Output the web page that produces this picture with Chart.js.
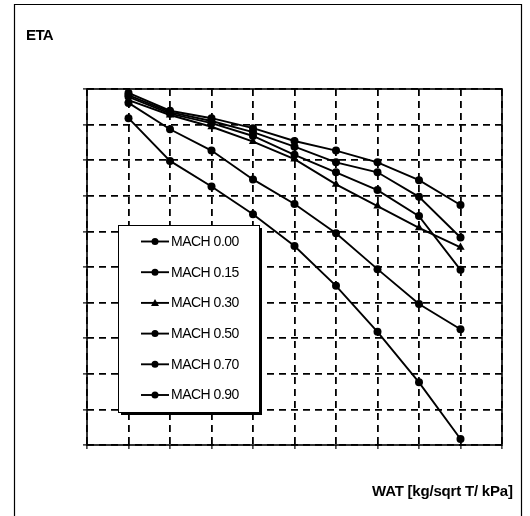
<!DOCTYPE html>
<html>
<head>
<meta charset="utf-8">
<script src="https://cdn.jsdelivr.net/npm/chart.js@4"></script>
<style>
html,body{margin:0;padding:0;background:#fff;}
#wrap{width:530px;height:516px;}
</style>
</head>
<body>
<div id="wrap"><canvas id="c" width="530" height="516"></canvas></div>
<script>
// ---- data ----
const wat = [1, 2, 3, 4, 5, 6, 7, 8, 9];
const seriesLabels = ["MACH 0.00", "MACH 0.15", "MACH 0.30", "MACH 0.50", "MACH 0.70", "MACH 0.90"];
const mach000 = [9.89, 9.39, 9.18, 8.90, 8.54, 8.27, 7.94, 7.44, 6.74];
const mach015 = [9.83, 9.35, 9.10, 8.79, 8.38, 7.94, 7.66, 6.97, 5.83];
const mach030 = [9.69, 9.27, 8.94, 8.52, 8.03, 7.32, 6.71, 6.10, 5.55];
const mach050 = [9.78, 9.31, 9.04, 8.68, 8.15, 7.66, 7.16, 6.43, 4.92];
const mach070 = [9.61, 8.87, 8.27, 7.46, 6.77, 5.95, 4.94, 3.96, 3.25];
const mach090 = [9.18, 7.98, 7.26, 6.48, 5.59, 4.47, 3.18, 1.76, 0.17];
const pointStyles = ["circle", "circle", "triangle", "circle", "circle", "circle"];
const titleText = "ETA";
const xAxisText = "WAT [kg/sqrt T/ kPa]";

const allSeries = [mach000, mach015, mach030, mach050, mach070, mach090];
const datasets = allSeries.map((vals, i) => ({
  label: seriesLabels[i],
  data: vals.map((v, j) => ({ x: wat[j], y: v })),
  borderColor: "#000",
  backgroundColor: "#000",
  borderWidth: 1.9,
  pointStyle: pointStyles[i],
  pointRadius: pointStyles[i] === "triangle" ? 4.8 : 4,
  pointBorderWidth: 0,
  tension: 0,
  fill: false
}));

const decor = {
  id: "decor",
  beforeDraw(chart) {
    const ctx = chart.ctx;
    ctx.save();
    ctx.fillStyle = "#fff";
    ctx.fillRect(0, 0, chart.width, chart.height);
    // outer frame
    ctx.strokeStyle = "#000";
    ctx.lineWidth = 1.2;
    ctx.beginPath();
    ctx.moveTo(14.5, 530);
    ctx.lineTo(14.5, 4.5);
    ctx.lineTo(521.5, 4.5);
    ctx.lineTo(521.5, 530);
    ctx.stroke();
    // title
    ctx.fillStyle = "#000";
    ctx.font = "bold 15px 'Liberation Sans', Arial, sans-serif";
    ctx.letterSpacing = "-0.6px";
    ctx.textBaseline = "middle";
    ctx.textAlign = "left";
    ctx.fillText(titleText, 26, 36);
    // x axis text
    ctx.font = "bold 15px 'Liberation Sans', Arial, sans-serif";
    ctx.letterSpacing = "-0.2px";
    ctx.fillText(xAxisText, 372, 492);
    ctx.restore();
  },
  beforeDatasetsDraw(chart) {
    const a = chart.chartArea;
    const ctx = chart.ctx;
    ctx.save();
    ctx.strokeStyle = "#000";
    ctx.lineWidth = 1.6;
    ctx.setLineDash([]);
    ctx.strokeRect(a.left, a.top, a.right - a.left, a.bottom - a.top);
    ctx.restore();
  },
  afterDatasetsDraw(chart) {
    const ctx = chart.ctx;
    const bx = 118, by = 225, bw = 141, bh = 187;
    ctx.save();
    // shadow
    ctx.fillStyle = "#000";
    ctx.fillRect(bx + 3, by + 3, bw, bh);
    ctx.fillStyle = "#fff";
    ctx.fillRect(bx, by, bw, bh);
    ctx.strokeStyle = "#000";
    ctx.lineWidth = 1;
    ctx.strokeRect(bx + 0.5, by + 0.5, bw, bh);
    chart.data.datasets.forEach((ds, i) => {
      const y = 241.5 + i * 30.7;
      ctx.strokeStyle = "#000";
      ctx.lineWidth = 1.9;
      ctx.beginPath();
      ctx.moveTo(141, y);
      ctx.lineTo(169, y);
      ctx.stroke();
      ctx.fillStyle = "#000";
      if (ds.pointStyle === "triangle") {
        ctx.beginPath();
        ctx.moveTo(155, y - 4);
        ctx.lineTo(159, y + 3);
        ctx.lineTo(151, y + 3);
        ctx.closePath();
        ctx.fill();
      } else {
        ctx.beginPath();
        ctx.arc(155, y, 3.5, 0, Math.PI * 2);
        ctx.fill();
      }
      ctx.font = "14px 'Liberation Sans', Arial, sans-serif";
      ctx.letterSpacing = "-0.5px";
      ctx.textBaseline = "middle";
      ctx.textAlign = "left";
      ctx.fillText(ds.label, 171, y + 0.5);
    });
    ctx.restore();
  }
};

new Chart(document.getElementById("c"), {
  type: "line",
  data: { datasets },
  options: {
    responsive: false,
    animation: false,
    devicePixelRatio: 1,
    layout: { padding: { left: 83, right: 28, top: 89, bottom: 67 } },
    plugins: { legend: { display: false }, tooltip: { enabled: false }, title: { display: false } },
    scales: {
      x: {
        type: "linear",
        min: 0, max: 10,
        ticks: { display: false, stepSize: 1 },
        grid: { color: "#000", lineWidth: 1.8, tickLength: 4, tickColor: "#000", tickWidth: 1.2 },
        border: { display: false, dash: [7, 5] }
      },
      y: {
        type: "linear",
        min: 0, max: 10,
        ticks: { display: false, stepSize: 1 },
        grid: { color: "#000", lineWidth: 1.8, tickLength: 4, tickColor: "#000", tickWidth: 1.2 },
        border: { display: false, dash: [7, 5] }
      }
    }
  },
  plugins: [decor]
});
</script>
</body>
</html>
